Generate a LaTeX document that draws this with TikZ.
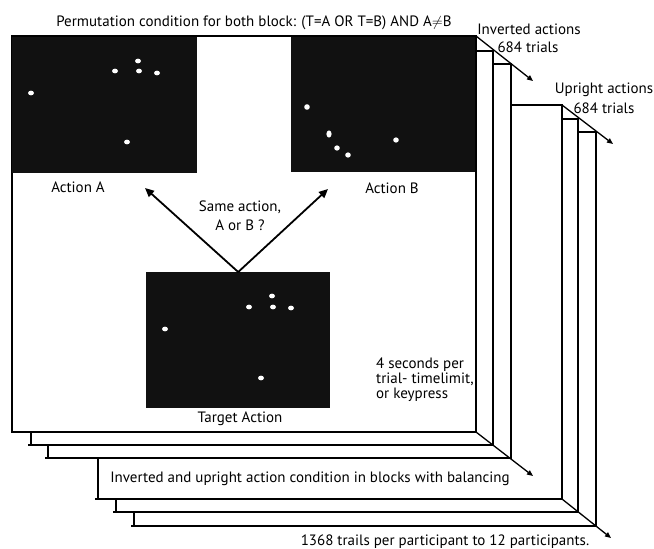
\documentclass[tikz,border=0pt]{standalone}
\usepackage{fontspec}
\setmainfont{PT Sans}
\usetikzlibrary{arrows.meta}
\definecolor{panelblack}{HTML}{111111}
\begin{document}
\begin{tikzpicture}[x=1pt,y=-1pt,
  frame/.style={draw=black,fill=white,line width=1.3pt},
  stub/.style={draw=black,line width=1.3pt},
  panel/.style={fill=panelblack,draw=none,inner sep=0pt,anchor=north west},
  dot/.style={fill=white,draw=none},
  lbl/.style={font=\fontsize{15}{18}\selectfont,inner sep=0pt},
  bigarrow/.style={line width=1.8pt,-{Triangle[length=9pt,width=8pt]}},
  stackarrow/.style={line width=1.3pt,-{Triangle[length=6pt,width=5pt]}}]
\useasboundingbox (0,0) rectangle (654,549);

% stacked frames, back to front
\coordinate (f6a) at (134,132); \coordinate (f6b) at (596,526);
\coordinate (f5a) at (116,119); \coordinate (f5b) at (578,512);
\coordinate (f4a) at (98,105);  \coordinate (f4b) at (562,499);
\coordinate (f3a) at (48,64);   \coordinate (f3b) at (511,458);
\coordinate (f2a) at (31,51);   \coordinate (f2b) at (493,445);
\coordinate (f1a) at (12,36);   \coordinate (f1b) at (476,432);

\path[frame] (f6a) rectangle (f6b);
\path[frame] (f5a) rectangle (f5b);
\path[frame] (f4a) rectangle (f4b);
\path[frame] (f3a) rectangle (f3b);
\path[frame] (f2a) rectangle (f2b);
\path[frame] (f1a) rectangle (f1b);

% small stubs at lower-left corners
\draw[stub] (131,526) -- (134,526);
\draw[stub] (113,512) -- (116,512);
\draw[stub] (95,499) -- (98,499);
\draw[stub] (45,458) -- (48,458);
\draw[stub] (28,445) -- (31,445);

% stack arrows
\coordinate (f1tr) at (476,36);  \coordinate (e1) at (533,81);
\coordinate (f1br) at (476,432); \coordinate (e2) at (533,476);
\coordinate (f4tr) at (562,105); \coordinate (e3) at (613,144);
\coordinate (f4br) at (562,499); \coordinate (e4) at (611,538);
\draw[stackarrow] (f1tr) -- (e1);
\draw[stackarrow] (f1br) -- (e2);
\draw[stackarrow] (f4tr) -- (e3);
\draw[stackarrow] (f4br) -- (e4);

% panels
\node[panel,minimum width=185pt,minimum height=136pt] (pA) at (12,37) {};
\node[panel,minimum width=184pt,minimum height=135pt] (pB) at (291,37) {};
\node[panel,minimum width=184pt,minimum height=136pt] (pT) at (146,272) {};

% dots A
\fill[dot] (31,93) ellipse [x radius=3pt,y radius=2.4pt];
\fill[dot] (115,71) ellipse [x radius=3pt,y radius=2.4pt];
\fill[dot] (138,61) ellipse [x radius=3pt,y radius=2.4pt];
\fill[dot] (139,71) ellipse [x radius=3pt,y radius=2.4pt];
\fill[dot] (157,73) ellipse [x radius=3pt,y radius=2.4pt];
\fill[dot] (127,142) ellipse [x radius=3pt,y radius=2.4pt];
% dots B
\fill[dot] (307,107) ellipse [x radius=2.8pt,y radius=2.8pt];
\fill[dot] (329,134) ellipse [x radius=2.6pt,y radius=3.6pt];
\fill[dot] (337,148) ellipse [x radius=2.8pt,y radius=2.6pt];
\fill[dot] (348,155) ellipse [x radius=2.8pt,y radius=2.6pt];
\fill[dot] (396,140) ellipse [x radius=2.8pt,y radius=2.6pt];
% dots target
\fill[dot] (165,329) ellipse [x radius=3pt,y radius=2.4pt];
\fill[dot] (249,307) ellipse [x radius=3pt,y radius=2.4pt];
\fill[dot] (272,296) ellipse [x radius=3pt,y radius=2.4pt];
\fill[dot] (273,307) ellipse [x radius=3pt,y radius=2.4pt];
\fill[dot] (291,308) ellipse [x radius=3pt,y radius=2.4pt];
\fill[dot] (261,378) ellipse [x radius=3pt,y radius=2.4pt];

% central arrows
\coordinate (tipA) at (145,188);
\coordinate (tipB) at (328,189);
\draw[bigarrow] (pT.north) -- (tipA);
\draw[bigarrow] (pT.north) -- (tipB);

% texts
\node[lbl] (perm) at (254,23) {Permutation condition for both block: (T=A OR T=B) AND A$\neq$B};
\node[lbl] (inv1) at (529,29) {Inverted actions};
\node[lbl] (inv2) at (528,47) {684 trials};
\node[lbl] (up1) at (604,90) {Upright actions};
\node[lbl] (up2) at (604,108) {684 trials};
\node[lbl] (la) at (78,187) {Action A};
\node[lbl] (lb) at (392,188) {Action B};
\node[lbl,align=center,font=\fontsize{15}{19}\selectfont] (same) at (240,216) {Same action,\\A or B ?};
\node[lbl] (lt) at (240,419) {Target Action};
\node[lbl,align=left,anchor=west,font=\fontsize{15}{15}\selectfont] (four) at (376,380) {4 seconds per\\trial- timelimit,\\or keypress};
\node[lbl] (blocks) at (310,479) {Inverted and upright action condition in blocks with balancing};
\node[lbl] (trails) at (445,542) {1368 trails per participant to 12 participants.};
\end{tikzpicture}
\end{document}
